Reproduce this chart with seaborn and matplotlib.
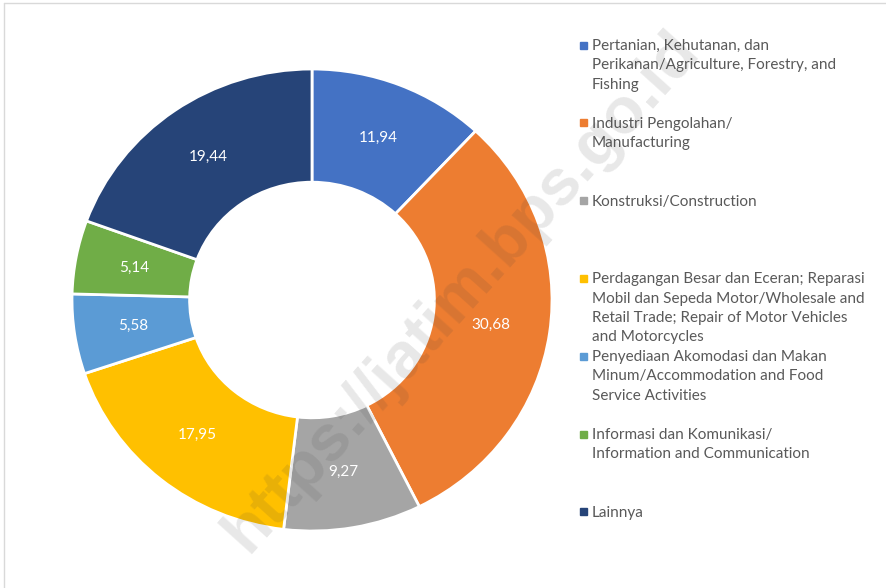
import matplotlib
matplotlib.use("Agg")
import matplotlib.pyplot as plt
import numpy as np
import seaborn as sns


SECTORS = [
    "Pertanian, Kehutanan, dan\nPerikanan/Agriculture, Forestry, and\nFishing",
    "Industri Pengolahan/\nManufacturing",
    "Konstruksi/Construction",
    "Perdagangan Besar dan Eceran; Reparasi\nMobil dan Sepeda Motor/Wholesale and\nRetail Trade; Repair of Motor Vehicles\nand Motorcycles",
    "Penyediaan Akomodasi dan Makan\nMinum/Accommodation and Food\nService Activities",
    "Informasi dan Komunikasi/\nInformation and Communication",
    "Lainnya",
]
SHARES = [11.94, 30.68, 9.27, 17.95, 5.58, 5.14, 19.44]
COLORS = ["#4472C4", "#ED7D31", "#A5A5A5", "#FFC000", "#5B9BD5", "#70AD47", "#264478"]

W, H = 887, 588
HOLE = 0.51
LIM = 1.04


def main():
    sns.set_theme(style="white")
    plt.rcParams["font.family"] = ["Lato", "DejaVu Sans"]

    fig = plt.figure(figsize=(W / 100, H / 100), dpi=100)
    fig.patch.set_facecolor("white")

    # donut is slightly wider than tall in the reference
    rx, ry, cx, cy = 240, 231, 312, 300
    ax = fig.add_axes([
        (cx - rx * LIM) / W,
        (H - cy - ry * LIM) / H,
        2 * rx * LIM / W,
        2 * ry * LIM / H,
    ])

    wedges, _ = ax.pie(
        SHARES,
        colors=COLORS,
        startangle=90,
        counterclock=False,
        radius=1,
        wedgeprops=dict(width=1 - HOLE, edgecolor="white", linewidth=2),
    )
    ax.set_aspect("auto")
    ax.set_xlim(-LIM, LIM)
    ax.set_ylim(-LIM, LIM)
    ax.axis("off")

    r_mid = (1 + HOLE) / 2
    for w, v in zip(wedges, SHARES):
        ang = np.deg2rad((w.theta1 + w.theta2) / 2)
        ax.text(r_mid * np.cos(ang), r_mid * np.sin(ang), f"{v:.2f}".replace(".", ","),
                ha="center", va="center", color="white", fontsize=11)

    # legend, entries top aligned like Excel
    for i, (label, color) in enumerate(zip(SECTORS, COLORS)):
        y = 45 + i * 77.8
        fig.patches.append(plt.Rectangle(((580) / W, 1 - (y + 3.5) / H), 7 / W, 7 / H,
                                         transform=fig.transFigure, color=color))
        fig.text(592 / W, 1 - (y - 6) / H, label, ha="left", va="top",
                 fontsize=11, color="#595959", linespacing=1.48)

    # watermark
    fig.text(462 / W, 1 - 292 / H, "https://jatim.bps.go.id", rotation=48,
             ha="center", va="center", fontsize=47, fontweight="bold",
             family=["Liberation Sans", "DejaVu Sans"], color="#404040", alpha=0.12)

    # thin frame on left/top
    fig.add_artist(plt.Line2D([4.5 / W, 4.5 / W], [0, 1 - 2.5 / H], color="#d9d9d9", lw=1))
    fig.add_artist(plt.Line2D([4.5 / W, 1], [1 - 2.5 / H, 1 - 2.5 / H], color="#d9d9d9", lw=1))

    fig.savefig("out.png", dpi=100, facecolor="white")
    plt.close(fig)


if __name__ == "__main__":
    main()
